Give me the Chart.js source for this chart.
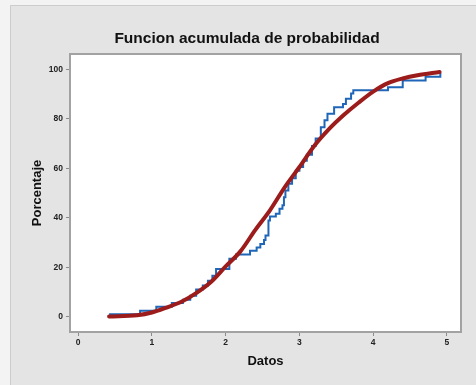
<!DOCTYPE html>
<html><head><meta charset="utf-8">
<script src="https://cdn.jsdelivr.net/npm/chart.js@4/dist/chart.umd.min.js"></script>
<style>html,body{margin:0;padding:0;background:#fff;overflow:hidden}#wrap{width:476px;height:385px;position:relative}</style>
</head><body><div id="wrap"><canvas id="c" width="476" height="385"></canvas></div>
<script>
const xTicks=[0,1,2,3,4,5];
const yTicks=[0,20,40,60,80,100];
// Empirical CDF (step positions and level after each step, %)
const ecdfX=[0.42,0.84,1.06,1.27,1.42,1.52,1.60,1.69,1.76,1.82,1.87,2.05,2.14,2.33,2.42,2.47,2.52,2.54,2.58,2.60,2.68,2.73,2.77,2.79,2.81,2.85,2.90,2.95,3.00,3.05,3.10,3.17,3.22,3.29,3.34,3.38,3.47,3.59,3.63,3.70,3.73,4.20,4.40,4.71,4.91];
const ecdfY=[1.0,2.4,4.0,5.5,6.8,8.5,11.0,12.6,14.5,16.5,19.3,23.4,25.1,26.7,28.0,29.4,31.0,32.8,38.9,40.5,41.6,43.6,45.0,48.3,51.0,53.7,56.0,59.0,60.5,63.0,65.5,69.0,72.0,76.6,79.4,82.0,84.7,86.0,88.1,90.2,91.5,92.8,95.5,97.0,98.6];
// Fitted cumulative curve (%)
const fitX=[0.42,0.8,1.0,1.2,1.4,1.6,1.8,2.0,2.2,2.4,2.6,2.8,3.0,3.2,3.4,3.6,3.8,4.0,4.2,4.4,4.6,4.9];
const fitY=[0.1,0.6,1.7,3.7,6.0,9.5,14.0,20.3,26.4,35.0,43.0,52.3,60.5,69.0,75.8,81.5,86.5,91.0,94.4,96.3,97.6,98.9];

const toPts=(xs,ys)=>xs.map((x,i)=>({x:x,y:ys[i]}));
const FONT='"Liberation Sans", Arial, sans-serif';

const bgPlugin={
  id:'bg',
  beforeDraw(chart){
    const ctx=chart.ctx, a=chart.chartArea;
    ctx.save();
    ctx.fillStyle='#f3f3f3';
    ctx.fillRect(0,0,chart.width,chart.height);
    ctx.fillStyle='#e4e4e4';
    ctx.fillRect(10,5,chart.width-10,chart.height-5);
    ctx.strokeStyle='#cccccc';ctx.lineWidth=1;
    ctx.beginPath();ctx.moveTo(10.5,chart.height);ctx.lineTo(10.5,5.5);ctx.lineTo(chart.width,5.5);ctx.stroke();
    ctx.fillStyle='#ffffff';
    ctx.fillRect(a.left,a.top,a.right-a.left,a.bottom-a.top);
    ctx.restore();
  },
  afterDatasetsDraw(chart){
    const ctx=chart.ctx, a=chart.chartArea;
    ctx.save();
    ctx.strokeStyle='#a2a2a2';ctx.lineWidth=2;
    ctx.strokeRect(a.left,a.top,a.right-a.left,a.bottom-a.top);
    ctx.restore();
  }
};

new Chart(document.getElementById('c'),{
  type:'line',
  data:{datasets:[
    {label:'Ajuste',data:toPts(fitX,fitY),borderColor:'#9c1b1b',borderWidth:4,pointRadius:0,cubicInterpolationMode:'monotone',fill:false,borderCapStyle:'round'},
    {label:'Empirica',data:toPts(ecdfX,ecdfY),borderColor:'#1f66b8',borderWidth:2,pointRadius:0,stepped:'before',fill:false}
  ]},
  options:{
    responsive:false,animation:false,devicePixelRatio:1,
    layout:{padding:{left:18,right:0,top:0,bottom:0}},
    plugins:{
      legend:{display:false},tooltip:{enabled:false},
      title:{display:true,text:'Funcion acumulada de probabilidad',color:'#111',font:{family:FONT,size:15.5,weight:'bold'},padding:{top:29.5,bottom:5.9}}
    },
    scales:{
      x:{type:'linear',min:-0.11,max:5.19,
        afterBuildTicks(s){s.ticks=xTicks.map(v=>({value:v}));},
        afterFit(s){s.height=53;},
        grid:{display:true,drawOnChartArea:false,drawTicks:true,tickLength:4,tickColor:'#8a8a8a'},
        border:{display:false},
        ticks:{color:'#222',font:{family:FONT,size:8.5,weight:'bold'},padding:2,maxRotation:0},
        title:{display:true,text:'Datos',color:'#111',font:{family:FONT,size:13,weight:'bold'},padding:{top:0,bottom:16}}
      },
      y:{type:'linear',min:-6.2,max:106.2,
        afterBuildTicks(s){s.ticks=yTicks.map(v=>({value:v}));},
        afterFit(s){s.width=52;},
        grid:{display:true,drawOnChartArea:false,drawTicks:true,tickLength:4,tickColor:'#8a8a8a'},
        border:{display:false},
        ticks:{color:'#222',font:{family:FONT,size:8.5,weight:'bold'},padding:3},
        title:{display:true,text:'Porcentaje',color:'#111',font:{family:FONT,size:13,weight:'bold'},padding:{top:11.5,bottom:0}}
      },
      y2:{type:'linear',position:'right',min:0,max:1,
        afterFit(s){s.width=15;},
        grid:{display:false},border:{display:false},ticks:{display:false}
      }
    }
  },
  plugins:[bgPlugin]
});
</script></body></html>
